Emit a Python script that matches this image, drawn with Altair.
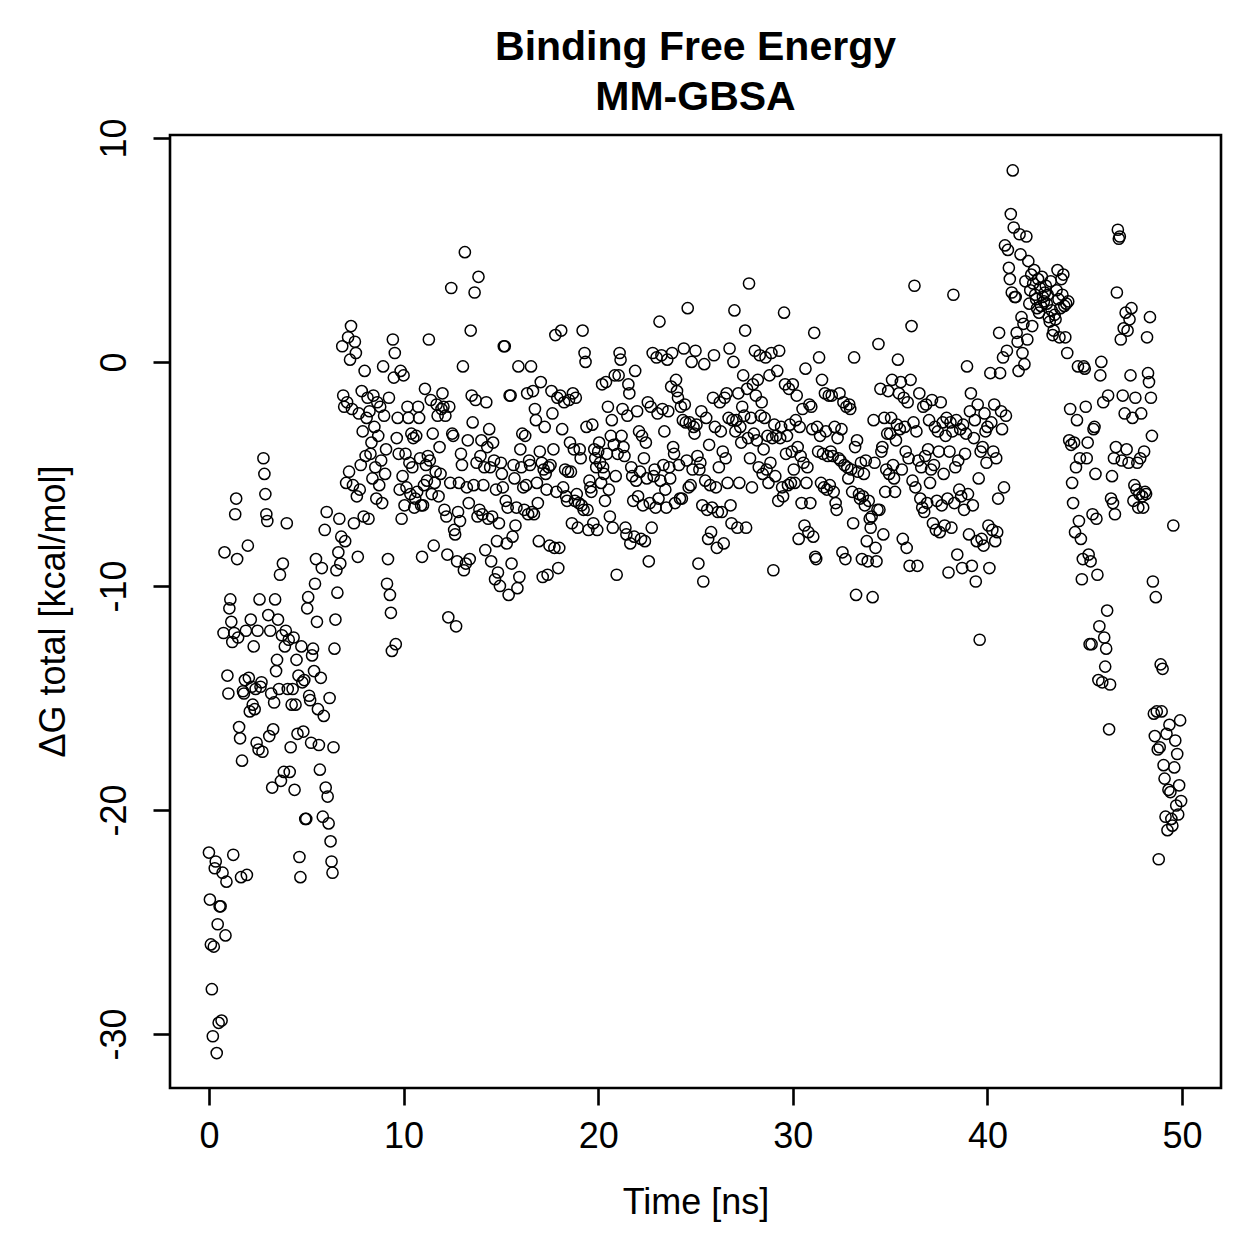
import altair as alt
import pandas as pd

# MM-GBSA total binding free energy per frame (kcal/mol), one frame every 0.05 ns.
dg_00_05 = [
    -21.9, -24.0, -26.0, -28.0, -30.1, -26.1, -22.6, -22.3, -30.85, -25.1,
    -29.5, -24.3, -24.3, -29.4, -22.8, -12.1, -8.5, -25.6, -23.2, -14.0,
    -14.8, -11.0, -10.6, -11.6, -12.5, -22.0, -12.1, -6.8, -6.1, -8.8,
    -12.3, -16.3, -16.8, -23.0, -17.8, -14.7, -14.8, -14.2, -12.0, -22.9,
    -8.2, -14.1, -15.6, -11.5, -14.5, -15.3, -12.7, -15.5, -14.6, -17.0,
    -12.0, -17.3, -10.6, -14.5, -14.3, -17.4, -4.3, -5.0, -5.9, -6.8,
    -7.1, -11.3, -16.7, -12.0, -14.8, -19.0, -16.4, -15.2, -10.6, -13.8,
    -13.3, -11.5, -14.6, -9.5, -18.7, -12.2, -9.0, -18.3, -12.7, -12.0,
    -7.2, -14.6, -12.4, -18.3, -17.2, -15.3, -14.6, -12.3, -19.1, -15.3,
    -13.3, -16.6, -14.0, -22.1, -23.0, -12.7, -14.3, -16.5, -14.2, -20.4,
]
dg_05_10 = [
    -20.4, -11.0, -10.5, -14.9, -15.1, -17.0, -13.1, -12.8, -13.8, -9.9,
    -8.8, -11.6, -15.5, -17.1, -18.2, -14.1, -9.2, -20.3, -15.8, -7.5,
    -19.0, -6.7, -19.4, -20.6, -15.0, -21.4, -22.3, -22.8, -17.2, -12.8,
    -11.5, -9.3, -10.3, -8.5, -7.0, -9.0, -7.8, 0.7, -1.5, -2.0,
    -8.0, -5.4, -1.8, 1.1, -4.9, 0.1, 1.6, -2.1, -5.5, -7.2,
    0.9, 0.4, -6.0, -8.7, -2.3, -5.7, -4.6, -1.3, -3.1, -6.9,
    -0.4, -4.2, -2.5, -1.6, -7.0, -2.2, -4.1, -3.6, -5.2, -1.5,
    -2.9, -4.7, -6.1, -1.8, -3.3, -5.5, -2.0, -4.4, -6.3, -0.2,
    -2.4, -5.0, -3.9, -9.9, -8.8, -1.6, -10.4, -11.2, -12.9, 1.0,
    -0.7, 0.4, -12.6, -3.4, -2.5, -4.1, -5.7, -0.4, -7.0, -5.1,
]
dg_10_15 = [
    -0.6, -6.4, -4.1, -5.6, -2.0, -2.5, -4.5, -5.9, -3.2, -4.7,
    -3.4, -6.5, -6.1, -3.3, -5.8, -2.0, -2.5, -4.3, -6.4, -8.7,
    -6.4, -5.5, -1.2, -4.6, -5.3, -4.2, 1.0, -4.4, -1.7, -5.9,
    -3.2, -8.2, -5.4, -4.9, -1.9, -2.4, -6.0, -3.8, -5.0, -2.1,
    -1.4, -2.0, -6.6, -2.4, -6.9, -8.6, -11.4, -2.0, -5.4, 3.3,
    -3.2, -3.3, -7.5, -7.7, -11.8, -8.9, -6.7, -5.4, -7.1, -4.1,
    -4.6, -0.2, -9.3, 4.9, -9.0, -5.6, -3.5, -6.3, -8.8, 1.4,
    -1.5, -2.7, -5.5, 3.1, -1.7, -4.5, -6.9, 3.8, -6.6, -4.2,
    -3.5, -6.8, -5.5, -4.7, -8.4, -1.8, -3.8, -7.0, -3.0, -4.7,
    -8.9, -6.9, -3.6, -4.4, -9.7, -5.7, -8.0, -9.4, -7.2, -10.0,
]
dg_15_20 = [
    -4.5, -5.0, -5.6, 0.7, 0.7, -6.2, -8.1, -6.5, -10.4, -1.5,
    -1.5, -9.0, -7.8, -4.6, -5.2, -7.3, -6.5, -10.1, -0.2, -9.6,
    -3.9, -4.7, -3.2, -5.6, -6.6, -3.3, -5.5, -1.4, -6.8, -4.4,
    -4.6, -0.2, -6.7, -1.3, -6.8, -2.1, -2.6, -5.4, -6.3, -8.0,
    -4.0, -0.9, -4.5, -9.6, -4.8, -2.9, -5.0, -5.7, -9.5, -4.7,
    -8.2, -4.6, -1.3, -2.3, -3.9, -8.3, 1.2, -5.8, -1.6, -9.2,
    -8.3, -1.5, 1.4, -3.0, -5.6, -1.8, -4.8, -6.0, -6.2, -4.9,
    -1.7, -3.6, -4.9, -7.2, -1.4, -3.9, -6.2, -1.6, -5.9, -7.4,
    -6.3, -3.9, -4.3, -6.4, 1.4, -6.6, 0.4, 0.0, -2.9, -6.6,
    -7.5, -5.3, -5.6, -5.8, -2.8, -7.2, -3.9, -4.3, -4.7, -7.5,
]
dg_20_25 = [
    -4.0, -3.6, -4.5, -5.4, -1.0, -4.7, -5.0, -6.2, -0.9, -4.1,
    -2.0, -5.7, -6.9, -3.3, -2.6, -7.4, -3.7, -0.6, -5.1, -9.5,
    -4.1, -0.6, 0.4, 0.1, -3.3, -2.1, -3.8, -4.2, -7.4, -7.7,
    -2.4, -1.0, -1.4, -8.1, -4.7, -5.1, -6.2, -7.8, -0.4, -5.3,
    -2.2, -6.0, -3.1, -4.9, -7.9, -3.3, -6.4, -4.3, -8.0, -3.6,
    -5.2, -1.8, -8.9, -6.3, -2.0, -7.4, 0.4, -5.1, -4.8, -6.5,
    0.2, -2.3, -6.1, 1.8, -5.3, 0.3, -2.1, -4.6, -3.1, -5.7,
    -6.5, 0.1, -2.2, -4.7, -5.2, -1.1, 0.4, -3.8, -4.1, -6.3,
    -0.8, -1.3, -1.6, -4.6, -6.1, -2.0, -6.1, -2.6, 0.6, -1.9,
    -2.7, -4.4, 2.4, -5.6, -2.7, -5.5, 0.0, -4.8, -2.9, -3.2,
]
dg_25_30 = [
    0.5, -2.8, -4.2, -9.0, -4.8, -4.5, -2.2, -6.4, -9.8, -0.1,
    -5.3, -2.5, -6.6, -7.9, -3.7, -5.5, -7.6, -6.5, -1.6, 0.3,
    -2.9, -5.6, -8.3, -6.7, -4.7, -1.8, -3.1, -6.7, -4.0, -8.1,
    -1.6, -4.3, -1.4, -5.4, -2.5, 0.6, -6.4, -7.2, -2.6, 0.0,
    2.3, -3.1, -2.6, -7.4, -1.4, -5.4, -2.9, -3.6, -2.0, -0.6,
    -2.4, 1.4, -7.4, -1.2, -3.4, 3.5, -4.3, -2.5, -5.6, -1.0,
    -3.2, 0.5, -1.5, -3.5, -0.8, -4.7, 0.3, -2.4, -1.8, -5.0,
    -3.9, -2.5, 0.2, -4.8, -3.3, -5.4, -0.6, -4.5, 0.4, -3.4,
    -9.3, -2.8, -5.1, -3.3, -0.4, -6.2, 0.5, -3.4, -2.9, -5.6,
    -6.0, 2.2, -1.0, -4.1, -3.3, -5.5, -1.2, -2.8, -5.4, -4.0,
]
dg_30_35 = [
    -1.0, -4.8, -5.4, -2.6, -1.5, -3.8, -7.9, -2.9, -4.2, -6.3,
    -2.1, -4.5, -7.3, -0.3, -5.4, -4.7, -7.6, -1.9, -6.3, -2.0,
    -3.0, -7.8, 1.3, -8.7, -8.8, -2.9, -4.0, 0.2, -3.3, -5.4,
    -0.8, -4.1, -5.6, -1.4, -3.1, -5.7, -4.2, -1.5, -5.5, -4.0,
    -1.5, -4.2, -5.8, -2.9, -6.3, -6.6, -3.4, -4.3, -1.4, -4.4,
    -3.0, -8.5, -1.8, -4.6, -8.8, -2.0, -4.7, -5.2, -1.9, -2.1,
    -4.8, -5.8, -7.2, 0.2, -3.8, -10.4, -3.5, -4.9, -5.9, -6.1,
    -4.5, -8.8, -6.0, -5.0, -6.4, -4.4, -8.0, -8.9, -6.2, -7.0,
    -7.4, -6.9, -10.5, -2.6, -4.5, -8.3, -8.9, -6.6, 0.8, -6.6,
    -1.2, -4.0, -3.8, -7.7, -2.5, -5.8, -4.8, -3.2, -1.3, -5.0,
]
dg_35_40 = [
    -3.2, -2.5, -0.8, -4.6, -5.2, -5.8, -3.5, -2.8, 0.1, -1.4,
    -3.0, -0.9, -4.8, -7.9, -1.6, -2.9, -4.0, -8.3, -1.8, -4.3,
    -9.1, -0.8, 1.6, -5.3, -2.7, 3.4, -5.6, -3.1, -9.1, -4.4,
    -1.4, -6.1, -4.7, -6.5, -2.0, -6.7, -4.2, -1.9, -6.3, -3.9,
    -2.6, -5.4, -4.8, -1.7, -7.2, -4.6, -2.9, -7.5, -6.2, -3.1,
    -4.0, -7.6, -1.8, -6.4, -2.7, -5.0, -7.3, -3.3, -2.5, -6.1,
    -9.4, -4.0, -2.7, -7.4, -3.1, 3.0, -6.3, -4.7, -2.6, -8.6,
    -4.4, -5.7, -3.0, -6.0, -9.2, -2.8, -6.6, -4.1, -3.2, -0.2,
    -5.9, -7.7, -2.2, -1.4, -9.1, -6.4, -3.4, -2.6, -9.8, -8.0,
    -1.9, -5.2, -12.4, -4.0, -7.9, -3.8, -8.2, -2.3, -3.1, -4.5,
]
dg_40_45 = [
    -2.9, -7.3, -9.2, -0.5, -2.7, -7.5, -4.0, -1.9, -8.0, -4.3,
    -7.6, -6.1, 1.3, -0.5, -2.2, -3.0, 0.2, -5.6, 5.2, -2.4,
    0.5, 5.0, 4.2, 3.7, 6.6, 3.1, 8.55, 6.0, 2.9, 2.9,
    1.3, 0.9, -0.4, 5.7, 4.8, 2.0, 0.4, 1.7, -0.1, 3.6,
    5.6, 1.0, 4.5, 2.6, 3.2, 3.9, 1.6, 3.5, 4.1, 3.0,
    2.8, 2.4, 3.7, 2.2, 3.3, 2.5, 3.8, 2.9, 2.7, 3.1,
    3.4, 2.6, 3.0, 2.0, 1.8, 3.6, 2.3, 1.2, 1.4, 2.1,
    1.9, 3.2, 4.1, 2.8, 1.1, 2.4, 3.7, 3.0, 3.9, 2.5,
    1.1, 2.6, 0.4, 2.7, -3.5, -2.1, -3.7, -5.4, -6.3, -3.6,
    -7.6, -4.7, -2.6, -0.2, -7.1, -4.3, -7.9, -9.7, -8.8, -0.2,
]
dg_45_50 = [
    -0.3, -2.0, -4.3, -3.6, -8.6, -12.6, -8.9, -12.6, -6.8, -3.0,
    -2.9, -5.0, -7.0, -9.5, -14.2, -11.8, -0.6, -0.0, -14.3, -1.8,
    -12.3, -13.6, -12.8, -11.1, -1.5, -16.4, -14.4, -6.1, -5.1, -6.3,
    -4.3, -6.8, -3.8, 3.1, 5.9, 5.5, 5.6, 1.0, -4.4, -1.5,
    1.5, -2.3, 2.2, -3.9, 1.4, -4.5, 1.9, -0.6, 2.4, -2.5,
    -6.2, -5.5, -1.6, -5.7, -4.5, -6.5, -5.9, -4.3, -2.3, -6.0,
    -6.5, -4.0, -5.8, -5.9, 1.1, -0.5, -0.9, 2.0, -1.6, -3.3,
    -9.8, -15.7, -16.7, -10.5, -15.6, -17.3, -22.2, -17.2, -13.5, -15.6,
    -13.7, -18.0, -18.6, -20.3, -16.6, -20.9, -19.1, -16.2, -19.2, -20.4,
    -20.7, -7.3, -18.1, -16.9, -19.8, -17.5, -20.2, -18.9, -16.0, -19.6,
]

dg_total = (dg_00_05 + dg_05_10 + dg_10_15 + dg_15_20 + dg_20_25
            + dg_25_30 + dg_30_35 + dg_35_40 + dg_40_45 + dg_45_50)
frame_step_ns = 0.05
time_ns = [round(i * frame_step_ns, 2) for i in range(len(dg_total))]

df = pd.DataFrame({"time": time_ns, "dg": dg_total})

FONT = "Liberation Sans"

x_axis = alt.Axis(
    values=[0, 10, 20, 30, 40, 50],
    title="Time [ns]",
    titleY=125,
    titleBaseline="alphabetic",
    labelBaseline="top",
    labelPadding=14,
    labelExpr="datum.value + ''",
)
y_axis = alt.Axis(
    values=[-30, -20, -10, 0, 10],
    title="\u0394G total [kcal/mol]",
    titleAngle=270,
    titleX=-106,
    titleY=476,
    titleAlign="center",
    titleBaseline="alphabetic",
    labelAngle=270,
    labelAlign="center",
    labelBaseline="alphabetic",
    labelPadding=28,
    labelExpr="datum.value + ''",
)

chart = (
    alt.Chart(df)
    .mark_point(shape="circle", filled=False, color="black", size=125,
                strokeWidth=1.5, opacity=1)
    .encode(
        x=alt.X("time:Q", scale=alt.Scale(domain=[-2, 52], nice=False, zero=False), axis=x_axis),
        y=alt.Y("dg:Q", scale=alt.Scale(domain=[-32.41, 10.13], nice=False, zero=False), axis=y_axis),
    )
    .properties(
        width=1051,
        height=953,
        autosize=alt.AutoSizeParams(type="none"),
        padding={"left": 170, "top": 135, "right": 38, "bottom": 171},
        background="white",
        title=alt.TitleParams(
            ["Binding Free Energy", "MM-GBSA"],
            font=FONT, fontSize=41, fontWeight="bold", color="black",
            anchor="middle", lineHeight=50, offset=16, dy=58, baseline="bottom",
        ),
    )
    .configure_view(stroke="black", strokeWidth=2.6)
    .configure_axis(
        domain=False, grid=False,
        ticks=True, tickColor="black", tickWidth=2.6, tickSize=17,
        labelFont=FONT, labelFontSize=36, labelColor="black",
        titleFont=FONT, titleFontSize=36, titleFontWeight="normal", titleColor="black",
    )
)

chart.save("out.html", embed_options={"renderer": "svg", "actions": False})
